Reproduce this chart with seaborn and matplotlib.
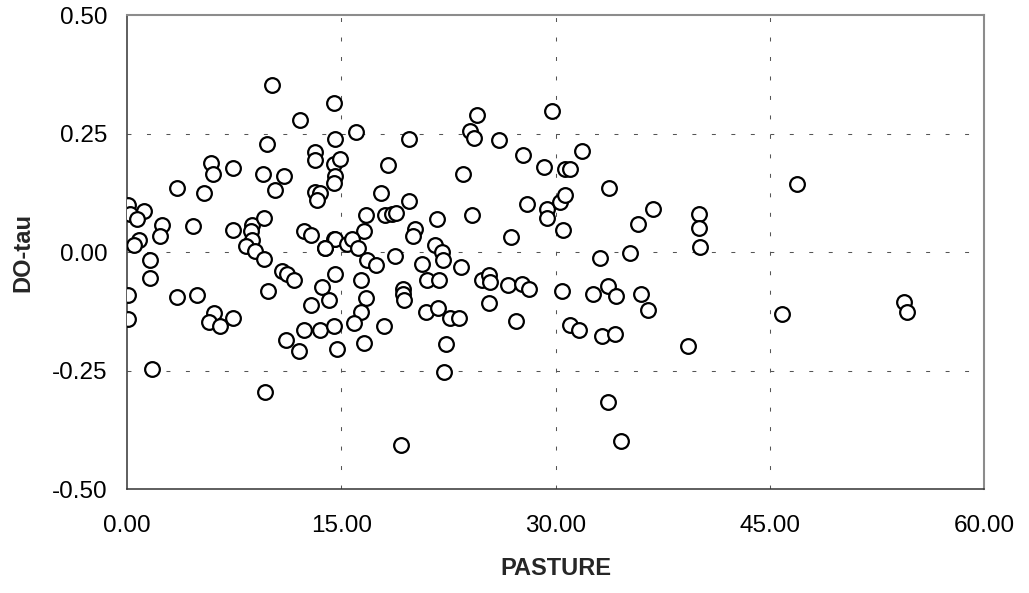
import matplotlib
matplotlib.use("Agg")
import matplotlib.pyplot as plt
import seaborn as sns
import pandas as pd

# Pasture share vs DO-tau scatter data
pasture = [
    10.17, 14.46, 12.13, 9.80, 14.53, 13.18, 13.18, 14.46, 14.93, 5.91,
    6.03, 7.40, 9.52, 10.97, 10.36, 14.58, 14.50, 3.51, 5.42, 13.18,
    13.53, 13.30, 0.06, 1.17, 0.24, 0.71, 2.46, 2.34, 4.63, 7.43,
    8.76, 8.69, 8.76, 8.34, 8.99, 9.62, 9.62, 0.87, 0.48, 1.64,
    1.64, 12.41, 12.88, 14.46, 13.83, 10.85, 11.20, 11.67, 14.58, 0.06,
    0.06, 3.51, 4.91, 6.07, 5.72, 6.54, 7.43, 1.76, 9.64, 9.85,
    13.65, 12.88, 14.16, 12.41, 13.53, 14.46, 14.70, 11.15, 12.06, 16.05,
    19.71, 24.02, 24.32, 24.53, 26.07, 29.78, 27.75, 29.20, 23.50, 18.26,
    17.80, 19.76, 16.75, 18.03, 18.55, 18.85, 21.69, 24.14, 26.87, 28.03,
    29.38, 29.38, 30.32, 30.66, 30.55, 16.61, 14.58, 13.88, 15.40, 15.75,
    16.14, 20.13, 20.01, 21.57, 22.04, 22.15, 16.80, 17.45, 18.78, 20.64,
    23.39, 16.38, 20.99, 21.87, 24.84, 25.35, 25.42, 26.70, 27.64, 28.17,
    30.48, 19.31, 19.31, 19.36, 16.73, 16.38, 15.91, 16.56, 17.96, 20.94,
    21.76, 22.62, 23.27, 25.35, 27.22, 22.34, 22.22, 19.20, 31.83, 30.66,
    31.01, 33.76, 36.84, 35.75, 40.06, 40.06, 40.10, 46.91, 35.21, 33.11,
    32.65, 33.69, 34.21, 35.98, 36.49, 31.01, 31.64, 33.23, 34.16, 39.29,
    45.89, 54.39, 54.60, 33.65, 34.58,
]
do_tau = [
    0.352, 0.315, 0.280, 0.229, 0.238, 0.211, 0.194, 0.187, 0.197, 0.188,
    0.166, 0.178, 0.166, 0.162, 0.132, 0.162, 0.146, 0.136, 0.125, 0.127,
    0.125, 0.110, 0.099, 0.087, 0.080, 0.071, 0.058, 0.034, 0.055, 0.048,
    0.058, 0.045, 0.025, 0.013, 0.003, 0.072, -0.015, 0.025, 0.016, -0.017,
    -0.054, 0.045, 0.037, 0.027, 0.009, -0.039, -0.045, -0.059, -0.045, -0.091,
    -0.140, -0.094, -0.091, -0.129, -0.147, -0.155, -0.138, -0.247, -0.294, -0.082,
    -0.073, -0.112, -0.100, -0.163, -0.164, -0.155, -0.203, -0.185, -0.208, 0.253,
    0.238, 0.255, 0.242, 0.290, 0.236, 0.298, 0.206, 0.180, 0.166, 0.185,
    0.126, 0.108, 0.078, 0.078, 0.081, 0.083, 0.070, 0.079, 0.032, 0.101,
    0.091, 0.073, 0.106, 0.120, 0.046, 0.045, 0.029, 0.010, 0.018, 0.027,
    0.008, 0.050, 0.034, 0.015, 0.001, -0.017, -0.017, -0.026, -0.008, -0.024,
    -0.032, -0.059, -0.059, -0.059, -0.059, -0.048, -0.063, -0.070, -0.066, -0.078,
    -0.081, -0.077, -0.087, -0.101, -0.096, -0.127, -0.149, -0.191, -0.156, -0.126,
    -0.117, -0.138, -0.138, -0.108, -0.145, -0.194, -0.252, -0.406, 0.213, 0.176,
    0.176, 0.135, 0.092, 0.060, 0.080, 0.052, 0.011, 0.145, -0.001, -0.013,
    -0.089, -0.072, -0.093, -0.087, -0.121, -0.154, -0.164, -0.176, -0.173, -0.198,
    -0.131, -0.105, -0.126, -0.315, -0.398,
]

x_ticks = [0, 15, 30, 45, 60]
y_ticks = [-0.50, -0.25, 0.00, 0.25, 0.50]
x_tick_labels = ["0.00", "15.00", "30.00", "45.00", "60.00"]
y_tick_labels = ["-0.50", "-0.25", "0.00", "0.25", "0.50"]

sns.set_style("white")
plt.rcParams["font.family"] = ["Liberation Sans", "DejaVu Sans"]
plt.rcParams["axes.unicode_minus"] = False

df = pd.DataFrame({"PASTURE": pasture, "DO-tau": do_tau})

fig = plt.figure(figsize=(10.29, 5.93), dpi=100)
ax = fig.add_axes([0.1234, 0.1749, 0.8329, 0.7993])

sns.scatterplot(
    data=df, x="PASTURE", y="DO-tau", ax=ax,
    s=112, color="white", edgecolor="black", linewidth=1.6, zorder=3,
)

ax.set_xlim(0, 60)
ax.set_ylim(-0.5, 0.5)
ax.set_xticks(x_ticks)
ax.set_xticklabels(x_tick_labels)
ax.set_yticks(y_ticks)
ax.set_yticklabels(y_tick_labels)

ax.tick_params(axis="both", direction="out", length=5.4, width=1.0,
               color="#333333", labelsize=17.5, labelcolor="black")
ax.tick_params(axis="y", pad=8.5)
ax.tick_params(axis="x", pad=13)

# dashed interior gridlines
ax.grid(True, color="#555555", linewidth=0.75, linestyle=(0, (3.8, 14.9)))
ax.set_axisbelow(True)
for line, v in zip(ax.get_xgridlines(), x_ticks):
    if v in (x_ticks[0], x_ticks[-1]):
        line.set_visible(False)
for line, v in zip(ax.get_ygridlines(), y_ticks):
    if v in (y_ticks[0], y_ticks[-1]):
        line.set_visible(False)

for side in ("left", "bottom"):
    ax.spines[side].set_color("#333333")
    ax.spines[side].set_linewidth(1.1)
for side in ("top", "right"):
    ax.spines[side].set_color("#8c8c8c")
    ax.spines[side].set_linewidth(1.5)
    ax.spines[side].set_visible(True)

ax.set_xlabel("PASTURE", fontsize=17, fontweight="bold")
ax.set_ylabel("DO-tau", fontsize=17, fontweight="bold")
ax.xaxis.set_label_coords(0.5, -0.168)
ax.xaxis.label.set_verticalalignment("center")
ax.yaxis.set_label_coords(-0.121, 0.5)
ax.yaxis.label.set_verticalalignment("center")

fig.savefig("out.png", dpi=100, facecolor="white")
